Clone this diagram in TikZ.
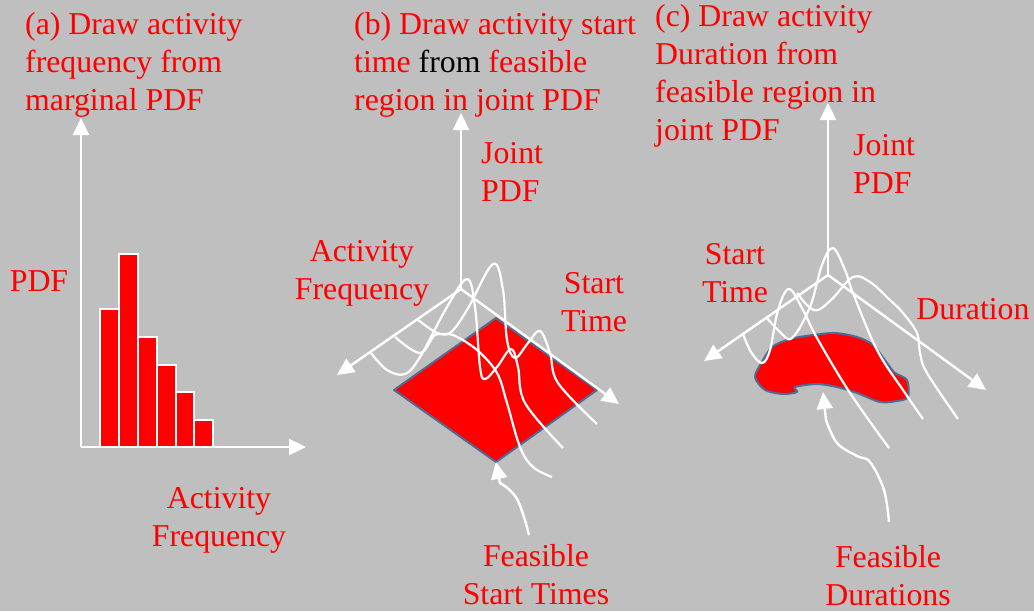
\documentclass[tikz,border=0pt]{standalone}
\usepackage{fontspec}
\setmainfont{Liberation Serif}
\usetikzlibrary{arrows.meta}

\definecolor{panelgray}{HTML}{BFBFBF}
\definecolor{edgeblue}{HTML}{4F6D93}

\tikzset{
  lbl/.style={text=red, inner sep=0pt, font=\fontsize{31.8}{38}\selectfont, align=center},
  lblleft/.style={lbl, align=left, anchor=north west},
  axis/.style={white, line width=2.4pt, -{Triangle[width=16pt,length=17pt]}},
  slice/.style={white, line width=2.2pt},
  feasible/.style={fill=red, draw=edgeblue, line width=2pt, line join=round},
  bar/.style={fill=red, draw=white, line width=1.8pt}
}

\begin{document}
\begin{tikzpicture}[x=1pt,y=-1pt]

% Background
\fill[panelgray] (0,0) rectangle (1034,611);
\useasboundingbox (0,0) rectangle (1034,611);

% Panel (a): axes
\coordinate (Oa) at (81,447);
\coordinate (Ya) at (81,118);
\coordinate (Xa) at (306,447);

% Panel (a): histogram
\foreach \xl/\xr/\ytop in {100/119/309, 119/138/254, 138/157/337, 157/176/365, 176/194/392, 194/213/420}
  \draw[bar] (\xl,447) rectangle (\xr,\ytop);

\draw[axis] (Oa) -- (Ya);
\draw[axis] (Oa) -- (Xa);

% Panel (a): labels
\node[lblleft] (titleA) at (25,12) {(a) Draw activity\\frequency from\\marginal PDF};
\node[lbl] (pdfA) at (39,281) {PDF};
\node[lbl] (freqA) at (219,520) {Activity\\Frequency};

% Panel (b): axes
\coordinate (Ob) at (461,289);
\coordinate (Yb) at (461,113);
\coordinate (Lb) at (337,375);
\coordinate (Rb) at (619,404);

% Panel (b): feasible region
\coordinate (T) at (496,318);
\coordinate (E) at (597,390);
\coordinate (S) at (496,462);
\coordinate (W) at (394,390);
\draw[feasible] (T) -- (E) -- (S) -- (W) -- cycle;

\draw[axis] (Ob) -- (Yb);
\draw[axis] (Ob) -- (Lb);
\draw[axis] (Ob) -- (Rb);

% Panel (b): density slices
\draw[slice] plot[smooth,tension=0.6] coordinates {(371,353) (387,370) (405,374) (420,357) (447,307) (467,279) (475,307) (480,367) (485,379) (497,367) (511,349) (518,367) (525,403) (563,448)};
\draw[slice] plot[smooth,tension=0.6] coordinates {(395,337) (420,353) (435,335) (450,333) (467,310) (493,264) (503,290) (507,340) (515,358) (528,343) (540,331) (550,353) (558,383) (597,424)};
\draw[slice] plot[smooth,tension=0.6] coordinates {(417,319) (437,333) (453,335) (477,350) (497,373) (507,403) (520,447) (533,467) (552,477)};

% Panel (b): labels
\node[lblleft] (titleB) at (354,12) {(b) Draw activity start\\time {\color{black}from} feasible\\region in joint PDF};
\node[lblleft] (jointB) at (481,142) {Joint\\PDF};
\node[lbl] (freqB) at (362,273) {Activity\\Frequency};
\node[lbl] (startB) at (594,302) {Start\\Time};
\node[lbl] (timesB) at (536,575) {Feasible\\Start Times};

% Panel (b): pointer to region
\coordinate (Pb) at (529,535);
\draw[axis] plot[smooth,tension=0.7] coordinates {(Pb) (517,499) (500,483)} -- (S);

% Panel (c): axes
\coordinate (Oc) at (828,275);
\coordinate (Yc) at (828,103);
\coordinate (Lc) at (704,361);
\coordinate (Rc) at (986,390);

% Panel (c): feasible region
\draw[feasible] plot[smooth cycle,tension=0.5] coordinates {(755,377) (762,362) (772,347) (790,339) (813,335) (835,333) (857,337) (873,345) (887,363) (895,373) (907,380) (908,397) (897,401) (880,402) (857,393) (837,387) (817,384) (795,387) (797,392) (783,394) (765,390)};

\draw[axis] (Oc) -- (Yc);
\draw[axis] (Oc) -- (Lc);
\draw[axis] (Oc) -- (Rc);

% Panel (c): density slices
\draw[slice] plot[smooth,tension=0.6] coordinates {(743,334) (751,352) (762,363) (770,350) (778,310) (789,289) (803,310) (817,338) (850,393) (889,448)};
\draw[slice] plot[smooth,tension=0.6] coordinates {(767,318) (780,332) (792,338) (810,307) (822,265) (833,248) (845,270) (853,293) (877,350) (903,390) (923,419)};
\draw[slice] plot[smooth,tension=0.6] coordinates {(797,293) (808,306) (818,310) (833,298) (853,277) (870,282) (890,300) (903,313) (917,333) (920,353) (927,373) (958,419)};

% Panel (c): labels
\node[lblleft] (titleC) at (655,4) {(c) Draw activity\\Duration from\\feasible region in\\joint PDF};
\node[lblleft] (jointC) at (853,134) {Joint\\PDF};
\node[lbl] (startC) at (735,273) {Start\\Time};
\node[lbl] (durC) at (973,309) {Duration};
\node[lbl] (timesC) at (888,576) {Feasible\\Durations};

% Panel (c): pointer to region
\coordinate (Pc) at (889,522);
\coordinate (Qc) at (823,392);
\draw[axis] plot[smooth,tension=0.6] coordinates {(Pc) (884,490) (870,462) (857,456) (837,443) (826,420)} -- (Qc);

\end{tikzpicture}
\end{document}
